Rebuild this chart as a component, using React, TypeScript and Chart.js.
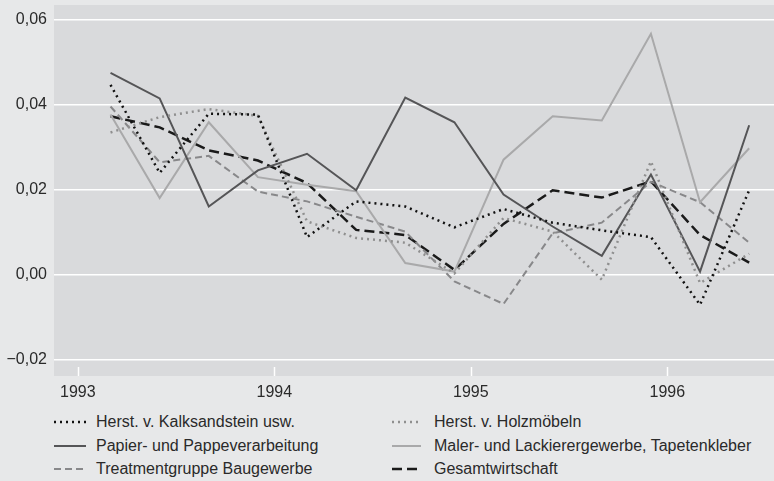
import React, { useEffect, useRef } from "react";
import { Chart, registerables } from "chart.js";

Chart.register(...registerables);

// Quarterly periods
const quarters = [
  "1993 Q1", "1993 Q2", "1993 Q3", "1993 Q4",
  "1994 Q1", "1994 Q2", "1994 Q3", "1994 Q4",
  "1995 Q1", "1995 Q2", "1995 Q3", "1995 Q4",
  "1996 Q1", "1996 Q2",
];

const kalksandstein = [0.0446, 0.0239, 0.0378, 0.0376, 0.0088, 0.0172, 0.016, 0.0111, 0.0154, 0.0122, 0.0104, 0.0088, -0.0071, 0.0198];
const holzmoebel = [0.0334, 0.037, 0.0389, 0.0373, 0.0125, 0.0086, 0.0075, 0.0003, 0.0133, 0.0101, -0.0012, 0.0266, -0.002, 0.0049];
const papier = [0.0474, 0.0414, 0.016, 0.0245, 0.0284, 0.0198, 0.0416, 0.0358, 0.0188, 0.0113, 0.0044, 0.0235, 0.0007, 0.0351];
const maler = [0.0376, 0.018, 0.0358, 0.0229, 0.0211, 0.0196, 0.0027, 0.0007, 0.027, 0.0372, 0.0362, 0.0566, 0.017, 0.0297];
const treatment = [0.0395, 0.0264, 0.0279, 0.0195, 0.0172, 0.0136, 0.0101, -0.0016, -0.0069, 0.0097, 0.0122, 0.0218, 0.017, 0.0075];
const gesamt = [0.0372, 0.0346, 0.0292, 0.0268, 0.0215, 0.0105, 0.0093, 0.0011, 0.0119, 0.0198, 0.0181, 0.0219, 0.0093, 0.0028];

const yTicks = [-0.02, 0, 0.02, 0.04, 0.06];
const xTicks = [1993, 1994, 1995, 1996];

const FONT = "'Liberation Sans', Arial, sans-serif";
const TEXT = "#2a2a2a";

type Series = { label: string; data: number[]; color: string; dash: number[]; width: number; col: number; row: number };

const series: Series[] = [
  { label: "Herst. v. Kalksandstein usw.", data: kalksandstein, color: "#111111", dash: [2, 4], width: 2.5, col: 0, row: 0 },
  { label: "Herst. v. Holzmöbeln", data: holzmoebel, color: "#8f8f8f", dash: [2, 4], width: 2.5, col: 1, row: 0 },
  { label: "Papier- und Pappeverarbeitung", data: papier, color: "#555557", dash: [], width: 2, col: 0, row: 1 },
  { label: "Maler- und Lackierergewerbe, Tapetenkleber", data: maler, color: "#a9a9aa", dash: [], width: 2, col: 1, row: 1 },
  { label: "Treatmentgruppe Baugewerbe", data: treatment, color: "#88888a", dash: [7, 4], width: 2, col: 0, row: 2 },
  { label: "Gesamtwirtschaft", data: gesamt, color: "#1a1a1a", dash: [10, 5], width: 2.5, col: 1, row: 2 },
];

function quarterToX(q: string): number {
  const [y, qq] = q.split(" Q");
  return Number(y) + (3 * Number(qq) - 1) / 12;
}

function fmt(v: number): string {
  return v.toFixed(2).replace(".", ",").replace("-", "\u2212");
}

const plotDecor = {
  id: "plotDecor",
  beforeDraw(chart: any) {
    const { ctx, chartArea: a } = chart;
    ctx.save();
    ctx.fillStyle = "#d9dadc";
    ctx.fillRect(a.left, a.top, a.right - a.left, a.bottom - a.top);
    ctx.restore();
  },
  beforeDatasetsDraw(chart: any) {
    const { ctx, chartArea: a } = chart;
    const xs = chart.scales.x;
    ctx.save();
    ctx.strokeStyle = "#ffffff";
    ctx.lineWidth = 1.5;
    xTicks.forEach((v) => {
      const px = Math.round(xs.getPixelForValue(v)) + 0.5;
      ctx.beginPath();
      ctx.moveTo(px, a.bottom - 9);
      ctx.lineTo(px, a.bottom);
      ctx.stroke();
    });
    ctx.restore();
  },
};

export default function App() {
  const ref = useRef<HTMLCanvasElement | null>(null);

  useEffect(() => {
    if (!ref.current) return;
    const chart = new Chart(ref.current, {
      type: "line",
      data: {
        datasets: series.map((s) => ({
          label: s.label,
          data: s.data.map((v, i) => ({ x: quarterToX(quarters[i]), y: v })),
          borderColor: s.color,
          backgroundColor: s.color,
          borderWidth: s.width,
          borderDash: s.dash,
          pointRadius: 0,
          tension: 0,
          fill: false,
        })),
      },
      options: {
        responsive: false,
        animation: false,
        layout: { padding: { top: 5, right: 0, left: 0, bottom: 0 } },
        plugins: { legend: { display: false }, tooltip: { enabled: false } },
        scales: {
          x: {
            type: "linear",
            min: 1992.879,
            max: 1996.543,
            afterBuildTicks: (s: any) => {
              s.ticks = xTicks.map((v) => ({ value: v }));
            },
            afterFit: (s: any) => {
              s.height = 34;
              s.paddingLeft = 0;
              s.paddingRight = 0;
              s.paddingTop = 0;
              s.paddingBottom = 0;
            },
            grid: { display: false, drawTicks: false },
            border: { display: false },
            ticks: {
              color: TEXT,
              font: { family: FONT, size: 16 },
              padding: 7,
              maxRotation: 0,
              callback: (v: any) => String(v),
            },
          },
          y: {
            type: "linear",
            min: -0.02384,
            max: 0.06336,
            afterBuildTicks: (s: any) => {
              s.ticks = yTicks.map((v) => ({ value: v }));
            },
            afterFit: (s: any) => {
              s.width = 54;
              s.paddingTop = 0;
              s.paddingBottom = 0;
              s.paddingLeft = 0;
              s.paddingRight = 0;
            },
            grid: { color: "#ffffff", lineWidth: 1.5, drawTicks: false },
            border: { display: false },
            ticks: {
              color: TEXT,
              font: { family: FONT, size: 16 },
              padding: 7,
              callback: (v: any) => fmt(Number(v)),
            },
          },
        },
      },
      plugins: [plotDecor],
    });
    return () => chart.destroy();
  }, []);

  const colX = [[54, 96], [392, 434]];
  const rowY = [422, 445.5, 469];

  return (
    <div
      style={{
        position: "fixed",
        left: 0,
        top: 0,
        width: 774,
        height: 481,
        background: "#e7e8e9",
        overflow: "hidden",
        fontFamily: FONT,
      }}
    >
      <canvas ref={ref} width={774} height={410} style={{ position: "absolute", left: 0, top: 0 }} />
      {series.map((s) => {
        const [sx, tx] = colX[s.col];
        const cy = rowY[s.row];
        const sw = s.col === 0 ? 32 : 29;
        return (
          <React.Fragment key={s.label}>
            <svg
              width={sw}
              height={6}
              style={{ position: "absolute", left: sx, top: cy - 3 }}
            >
              <line
                x1={0}
                y1={3}
                x2={sw}
                y2={3}
                stroke={s.color}
                strokeWidth={s.width}
                strokeDasharray={s.dash.length ? s.dash.join(" ") : undefined}
              />
            </svg>
            <div
              style={{
                position: "absolute",
                left: tx,
                top: cy - 10,
                height: 20,
                lineHeight: "20px",
                fontSize: 16,
                color: TEXT,
                whiteSpace: "nowrap",
              }}
            >
              {s.label}
            </div>
          </React.Fragment>
        );
      })}
    </div>
  );
}
